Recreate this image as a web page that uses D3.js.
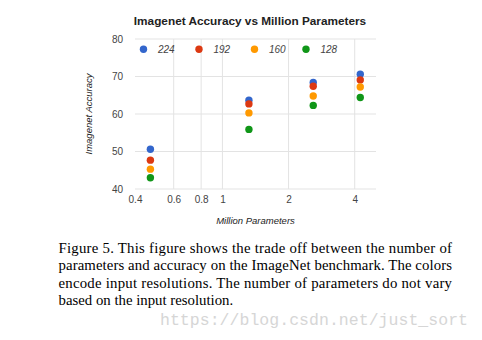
<!DOCTYPE html>
<html><head><meta charset="utf-8">
<script src="https://cdn.jsdelivr.net/npm/d3@7"></script>
<style>body{margin:0;background:#fff}svg{display:block}</style>
</head><body>
<svg id="c" width="482" height="340"></svg>
<script>
const params = [0.47, 1.32, 2.59, 4.24];
const resolutions = ["224", "192", "160", "128"];
const acc224 = [50.6, 63.7, 68.4, 70.6];
const acc192 = [47.7, 62.7, 67.4, 69.1];
const acc160 = [45.3, 60.3, 64.8, 67.2];
const acc128 = [43.0, 55.9, 62.3, 64.4];
const colors = ["#3366cc", "#dc3912", "#ff9900", "#109618"];
const yTicks = [40, 50, 60, 70, 80];
const xTicks = [0.4, 0.6, 0.8, 1, 2, 4];
const captionLines = [
  "Figure 5. This figure shows the trade off between the number of",
  "parameters and accuracy on the ImageNet benchmark. The colors",
  "encode input resolutions.  The number of parameters do not vary",
  "based on the input resolution."
];
const series = [acc224, acc192, acc160, acc128];

const svg = d3.select("#c");
const x = d3.scaleLog().domain([0.4, 5]).range([135, 376]);
const y = d3.scaleLinear().domain([40, 80]).range([189, 39]);

// grid
svg.append("g").selectAll("line").data(yTicks).join("line")
  .attr("x1", 135).attr("x2", 376)
  .attr("y1", d => y(d)).attr("y2", d => y(d))
  .attr("stroke", "#e3e3e3").attr("stroke-width", 1);
svg.append("g").selectAll("line").data(xTicks.filter(d => d > 0.4)).join("line")
  .attr("x1", d => x(d)).attr("x2", d => x(d))
  .attr("y1", 39).attr("y2", 189)
  .attr("stroke", "#e3e3e3").attr("stroke-width", 1);

// y axis via d3 axis
const yAxis = svg.append("g").attr("transform", "translate(135,0)")
  .call(d3.axisLeft(y).tickValues(yTicks).tickSize(0).tickPadding(12));
yAxis.select(".domain").remove();
yAxis.selectAll("text").attr("font-family", "Arial, 'Liberation Sans', sans-serif")
  .attr("font-size", 10).attr("fill", "#444");

const xAxis = svg.append("g").attr("transform", "translate(0,189)")
  .call(d3.axisBottom(x).tickValues(xTicks).tickFormat(d3.format("")).tickSize(0).tickPadding(7));
xAxis.select(".domain").remove();
xAxis.selectAll("text").attr("font-family", "Arial, 'Liberation Sans', sans-serif")
  .attr("font-size", 10).attr("fill", "#444");

// title
svg.append("text").attr("x", 250).attr("y", 24.5).attr("text-anchor", "middle")
  .attr("font-family", "Arial, 'Liberation Sans', sans-serif").attr("font-weight", "bold")
  .attr("font-size", 11.8).attr("fill", "#222").text("Imagenet Accuracy vs Million Parameters");

// axis titles
svg.append("text").attr("x", 255.5).attr("y", 223.5).attr("text-anchor", "middle")
  .attr("font-family", "Arial, 'Liberation Sans', sans-serif").attr("font-style", "italic")
  .attr("font-size", 9.5).attr("fill", "#222").text("Million Parameters");
svg.append("text").attr("transform", "translate(91.5,114) rotate(-90)").attr("text-anchor", "middle")
  .attr("font-family", "Arial, 'Liberation Sans', sans-serif").attr("font-style", "italic")
  .attr("font-size", 9.5).attr("fill", "#222").text("Imagenet Accuracy");

// points
series.forEach((s, i) => {
  svg.append("g").selectAll("circle").data(s).join("circle")
    .attr("cx", (d, j) => x(params[j])).attr("cy", d => y(d))
    .attr("r", 3.7).attr("fill", colors[i]);
});

// legend
const legX = [143.5, 199, 254.5, 306];
const leg = svg.append("g");
resolutions.forEach((r, i) => {
  leg.append("circle").attr("cx", legX[i]).attr("cy", 49.3).attr("r", 3.7).attr("fill", colors[i]);
  leg.append("text").attr("x", legX[i] + 14.5).attr("y", 52.8)
    .attr("font-family", "Arial, 'Liberation Sans', sans-serif").attr("font-style", "italic")
    .attr("font-size", 10).attr("fill", "#444").text(r);
});

// caption
const capY = [253, 270.3, 287.6, 305];
captionLines.forEach((t, i) => {
  const tx = svg.append("text").attr("x", 58.5).attr("y", capY[i])
    .attr("font-family", "'Liberation Serif', 'Times New Roman', serif")
    .attr("font-size", 14.8).attr("fill", "#000").text(t);
  if (i < 3) tx.attr("textLength", 393.5).attr("lengthAdjust", "spacing");
});

// watermark
svg.append("text").attr("x", 160).attr("y", 325)
  .attr("font-family", "'Liberation Mono', 'DejaVu Sans Mono', monospace")
  .attr("font-size", 16.5).attr("fill", "#d6d6d6").attr("textLength", 308).attr("lengthAdjust", "spacing")
  .text("https://blog.csdn.net/just_sort");
</script>
</body></html>
